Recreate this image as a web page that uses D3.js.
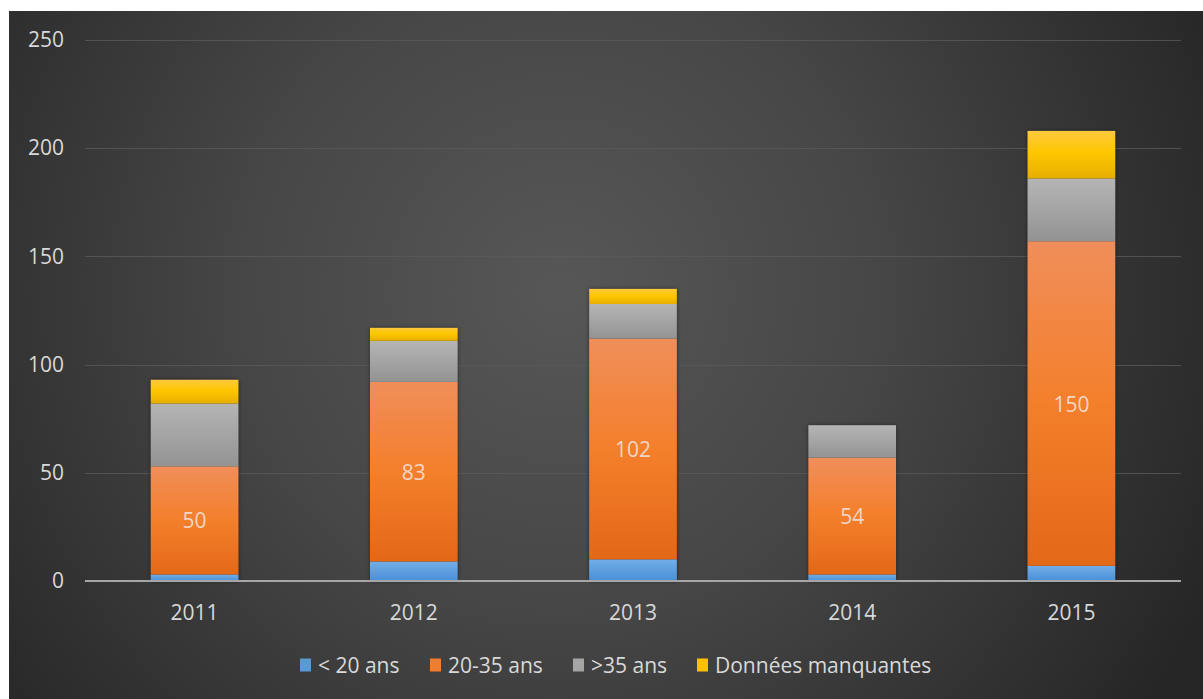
<!DOCTYPE html>
<html>
<head>
<meta charset="utf-8">
<script src="https://cdn.jsdelivr.net/npm/d3@7"></script>
<style>
  html, body { margin: 0; padding: 0; background: #ffffff; }
  svg { display: block; }
  text { font-family: "Open Sans", "Noto Sans", sans-serif; }
</style>
</head>
<body>
<svg id="chart" width="1203" height="699"></svg>
<script>
// Births by age group of the mother, per year
const years = ["2011", "2012", "2013", "2014", "2015"];
const seriesNames = ["< 20 ans", "20-35 ans", ">35 ans", "Données manquantes"];
const under20 = [3, 9, 10, 3, 7];
const age20to35 = [50, 83, 102, 54, 150];
const over35 = [29, 19, 16, 15, 29];
const missing = [11, 6, 7, 0, 22];
const yTicks = [0, 50, 100, 150, 200, 250];

const seriesValues = [under20, age20to35, over35, missing];
const labelledSeries = 1; // values shown inside the 20-35 segment

const width = 1203, height = 699;
const svg = d3.select("#chart");
const defs = svg.append("defs");

// dark radial background of the chart area
const bg = defs.append("radialGradient").attr("id", "bg")
  .attr("gradientUnits", "userSpaceOnUse")
  .attr("cx", 560).attr("cy", 290).attr("r", 720);
bg.append("stop").attr("offset", "0%").attr("stop-color", "#575757");
bg.append("stop").attr("offset", "45%").attr("stop-color", "#464646");
bg.append("stop").attr("offset", "100%").attr("stop-color", "#262626");

// vertical shading of each series
const fills = [
  [["0%", "#72ade6"], ["100%", "#4a8fd8"]],
  [["0%", "#f08e5a"], ["50%", "#f47f2b"], ["100%", "#e36818"]],
  [["0%", "#b5b5b5"], ["100%", "#939393"]],
  [["0%", "#ffc93e"], ["45%", "#ffc700"], ["100%", "#e6ae00"]]
];
fills.forEach((stops, i) => {
  const g = defs.append("linearGradient").attr("id", "fill" + i)
    .attr("x1", 0).attr("y1", 0).attr("x2", 0).attr("y2", 1);
  stops.forEach(s => g.append("stop").attr("offset", s[0]).attr("stop-color", s[1]));
});
const legendColors = ["#5b9bd5", "#ed7d31", "#a5a5a5", "#ffc000"];

const shadow = defs.append("filter").attr("id", "shadow")
  .attr("x", "-10%").attr("y", "-10%").attr("width", "120%").attr("height", "120%");
shadow.append("feDropShadow").attr("dx", 0).attr("dy", 0).attr("stdDeviation", 2)
  .attr("flood-color", "#000").attr("flood-opacity", 0.45);

svg.append("rect").attr("x", 9).attr("y", 11)
  .attr("width", width - 9).attr("height", height - 11).attr("fill", "url(#bg)");

const x = d3.scaleBand().domain(years).range([85, 1181])
  .paddingInner(0.6).paddingOuter(0.3);
const y = d3.scaleLinear().domain([0, 250]).range([581, 40]);

// gridlines
svg.append("g").selectAll("line").data(yTicks.filter(t => t > 0)).join("line")
  .attr("x1", 85).attr("x2", 1181)
  .attr("y1", d => Math.round(y(d)) + 0.5).attr("y2", d => Math.round(y(d)) + 0.5)
  .attr("stroke", "#5a5a5a").attr("stroke-width", 1).attr("opacity", 0.8);

// y axis labels
const yAxis = d3.axisLeft(y).tickValues(yTicks).tickSize(0).tickPadding(0);
const yG = svg.append("g").attr("transform", "translate(64,0)").call(yAxis);
yG.select(".domain").remove();
yG.selectAll("text").attr("fill", "#d9d9d9").attr("font-size", 21)
  .attr("font-family", "'Open Sans', sans-serif");

// stacked bars
const stackData = years.map((yr, i) => {
  const row = { year: yr };
  seriesValues.forEach((arr, s) => { row["s" + s] = arr[i]; });
  return row;
});
const stack = d3.stack().keys(seriesValues.map((_, s) => "s" + s));
const layers = stack(stackData);

const barsG = svg.append("g");
// shadow behind each full bar
barsG.selectAll("rect.bshadow").data(years).join("rect")
  .attr("class", "bshadow")
  .attr("x", d => x(d)).attr("width", x.bandwidth())
  .attr("y", (d, i) => y(layers[layers.length - 1][i][1]))
  .attr("height", (d, i) => y(0) - y(layers[layers.length - 1][i][1]))
  .attr("fill", "#3a3a3a").attr("filter", "url(#shadow)");

layers.forEach((layer, s) => {
  barsG.append("g").selectAll("rect").data(layer.filter(d => d[1] - d[0] > 0)).join("rect")
    .attr("x", d => x(d.data.year)).attr("width", x.bandwidth())
    .attr("y", d => y(d[1])).attr("height", d => y(d[0]) - y(d[1]))
    .attr("fill", "url(#fill" + s + ")");
});

// value labels in the 20-35 segment
svg.append("g").selectAll("text").data(layers[labelledSeries]).join("text")
  .attr("x", d => x(d.data.year) + x.bandwidth() / 2)
  .attr("y", d => (y(d[0]) + y(d[1])) / 2)
  .attr("text-anchor", "middle").attr("dominant-baseline", "central")
  .attr("fill", "#efd6c6").attr("font-size", 21)
  .text(d => d[1] - d[0]);

// baseline
svg.append("line").attr("x1", 85).attr("x2", 1181)
  .attr("y1", y(0)).attr("y2", y(0))
  .attr("stroke", "#a6a6a6").attr("stroke-width", 2);

// x axis labels
const xAxis = d3.axisBottom(x).tickSize(0).tickPadding(0);
const xG = svg.append("g").attr("transform", "translate(0,604)").call(xAxis);
xG.select(".domain").remove();
xG.selectAll("text").attr("fill", "#d9d9d9").attr("font-size", 21)
  .attr("font-family", "'Open Sans', sans-serif").attr("dy", "0.75em");

// legend
const legendX = [300, 430, 573, 697];
const legend = svg.append("g").selectAll("g").data(seriesNames).join("g")
  .attr("transform", (d, i) => `translate(${legendX[i]},665)`);
legend.append("rect").attr("x", 0).attr("y", -6.5).attr("width", 11).attr("height", 13)
  .attr("fill", (d, i) => legendColors[i]);
legend.append("text").attr("x", 18).attr("y", 0).attr("dominant-baseline", "central")
  .attr("fill", "#d9d9d9").attr("font-size", 21).text(d => d);
</script>
</body>
</html>
